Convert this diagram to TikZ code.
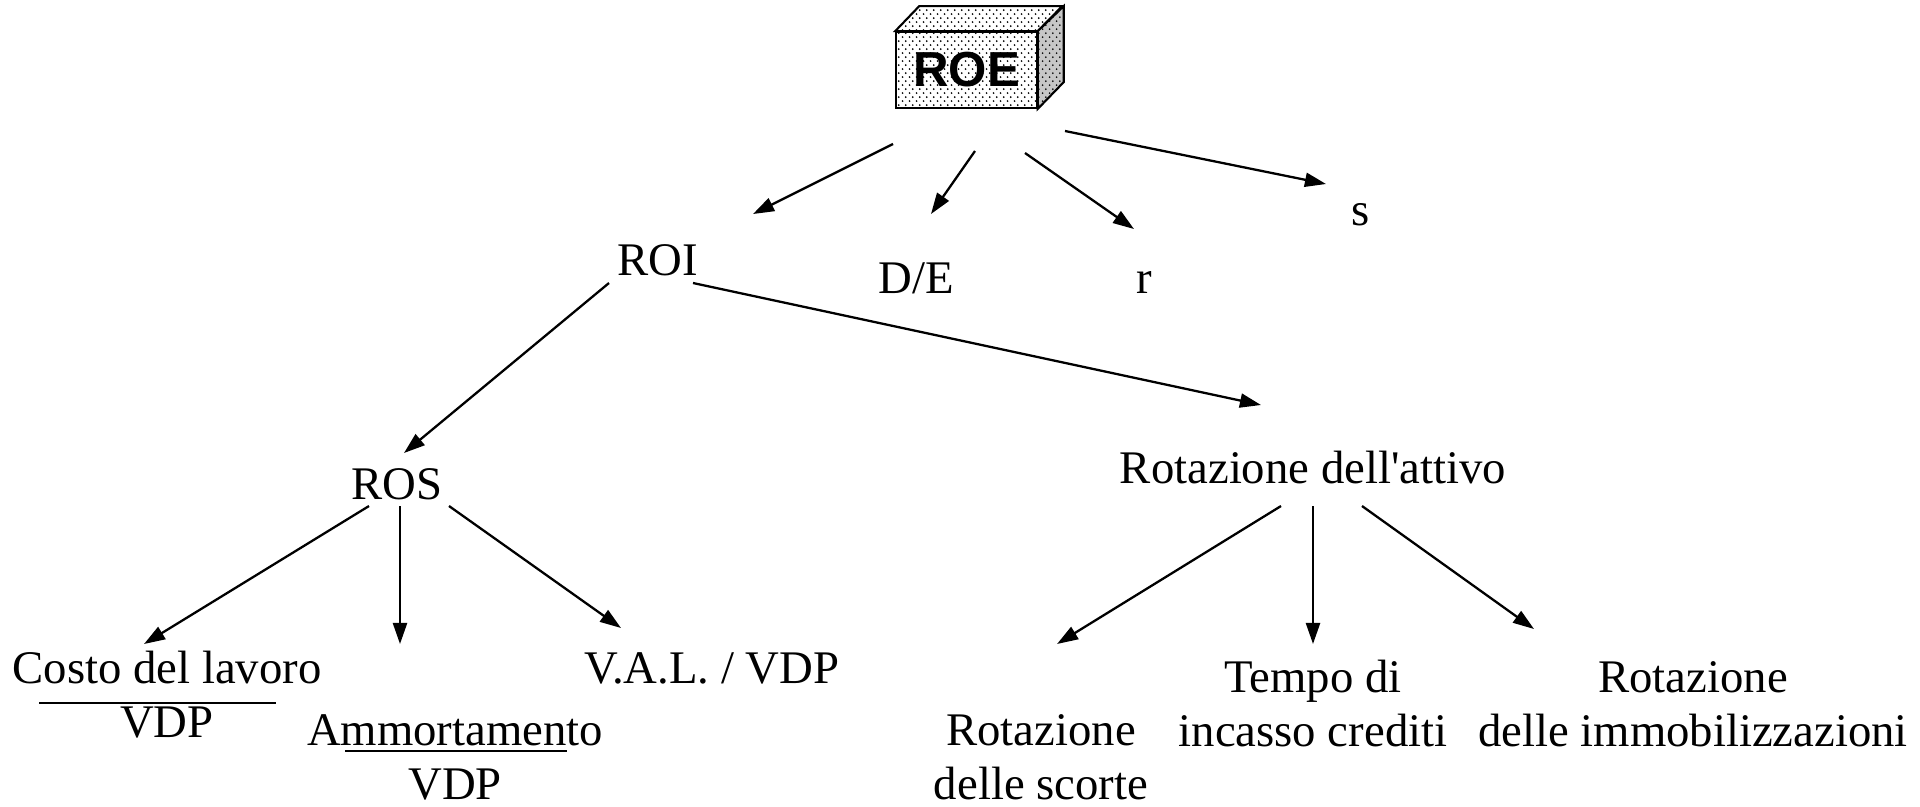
\documentclass[tikz,border=0pt]{standalone}
\usepackage{fontspec}
\setmainfont{Liberation Serif}
\newfontfamily\roefont{Liberation Sans}
\usetikzlibrary{
  arrows.meta,
  patterns.meta
}

% dotted fill of the ROE box
\pgfdeclarepattern{
  name=roedots, type=uncolored,
  bottom left={\pgfpoint{0pt}{0pt}}, top right={\pgfpoint{3.8pt}{4.5pt}},
  tile size={\pgfpoint{3.8pt}{4.5pt}},
  code={
    \pgfpathcircle{\pgfpoint{0.95pt}{1.1pt}}{0.55pt}
    \pgfpathcircle{\pgfpoint{2.85pt}{3.35pt}}{0.55pt}
    \pgfusepath{fill}
  }
}

\begin{document}
\begin{tikzpicture}[x=0.02cm, y=-0.02cm,
    lbl/.style={font=\fontsize{26.6}{30.6}\selectfont, inner sep=0pt, anchor=base, align=center},
    arr/.style={-{Triangle[length=12pt,width=8pt]}, line width=1.3pt},
    face/.style={draw, line width=1.2pt, pattern=roedots}]

		\useasboundingbox (0,0) rectangle (1920,806);

		% ROE box
		\node[face, minimum width=79.9pt, minimum height=43.1pt, inner sep=0pt,
		      font=\roefont\bfseries\fontsize{28}{30}\selectfont] (roe) at (966.5,70) {ROE};
		\draw[face] (roe.north west) -- ++(24,-25) -- ++(143,0) -- (roe.north east) -- cycle;
		\draw[face, preaction={fill=black!22}] (roe.north east) -- ++(26,-25) -- ++(0,76) -- (roe.south east) -- cycle;

		% first level
		\node[lbl] (roi) at (658,275) {ROI};
		\node[lbl] (de) at (916,293) {D/E};
		\node[lbl] (r) at (1144,293) {r};
		\node[lbl] (s) at (1361,225) {s};

		% second level
		\node[lbl] (ros) at (397,499) {ROS};
		\node[lbl] (rot) at (1313,483) {Rotazione dell\textquotesingle attivo};

		% ratios (base = last line)
		\node[lbl] (costo) at (167,737) {Costo del lavoro\\VDP};
		\draw[line width=1.2pt] (39,703) -- (276,703);
		\node[lbl] (amm) at (455,799) {Ammortamento\\VDP};
		\draw[line width=1.2pt] (345,751) -- (567,751);
		\node[lbl] (val) at (712,683) {V.A.L. / VDP};

		% rotations
		\node[lbl] (scorte) at (1041,799) {Rotazione\\delle scorte};
		\node[lbl] (tempo) at (1313,746) {Tempo di\\incasso crediti};
		\node[lbl] (immob) at (1693,746) {Rotazione\\delle immobilizzazioni};

		% arrows from ROE
		\draw[arr] ([shift={(-73.5,74)}]roe.center) -- ([shift={(95,-61)}]roi.base);
		\draw[arr] ([shift={(8.5,81)}]roe.center) -- ([shift={(15,-79)}]de.base);
		\draw[arr] ([shift={(58.5,83)}]roe.center) -- ([shift={(-10,-64)}]r.base);
		\draw[arr] ([shift={(98.5,61)}]roe.center) -- ([shift={(-35,-41)}]s.base);

		% arrows from ROI
		\draw[arr] ([shift={(-49,8)}]roi.base) -- ([shift={(7,-46)}]ros.base);
		\draw[arr] ([shift={(35,8)}]roi.base) -- ([shift={(-52,-78)}]rot.base);

		% arrows from ROS
		\draw[arr] ([shift={(-28,7)}]ros.base) -- ([shift={(-23,-93)}]costo.base);
		\draw[arr] ([shift={(3,7)}]ros.base) -- ([shift={(-55,-155)}]amm.base);
		\draw[arr] ([shift={(52,7)}]ros.base) -- ([shift={(-91,-55)}]val.base);

		% arrows from Rotazione dell'attivo
		\draw[arr] ([shift={(-32,23)}]rot.base) -- ([shift={(16,-155)}]scorte.base);
		\draw[arr] ([shift={(0,23)}]rot.base) -- ([shift={(0,-102)}]tempo.base);
		\draw[arr] ([shift={(49,23)}]rot.base) -- ([shift={(-159,-117)}]immob.base);
	\end{tikzpicture}
\end{document}
